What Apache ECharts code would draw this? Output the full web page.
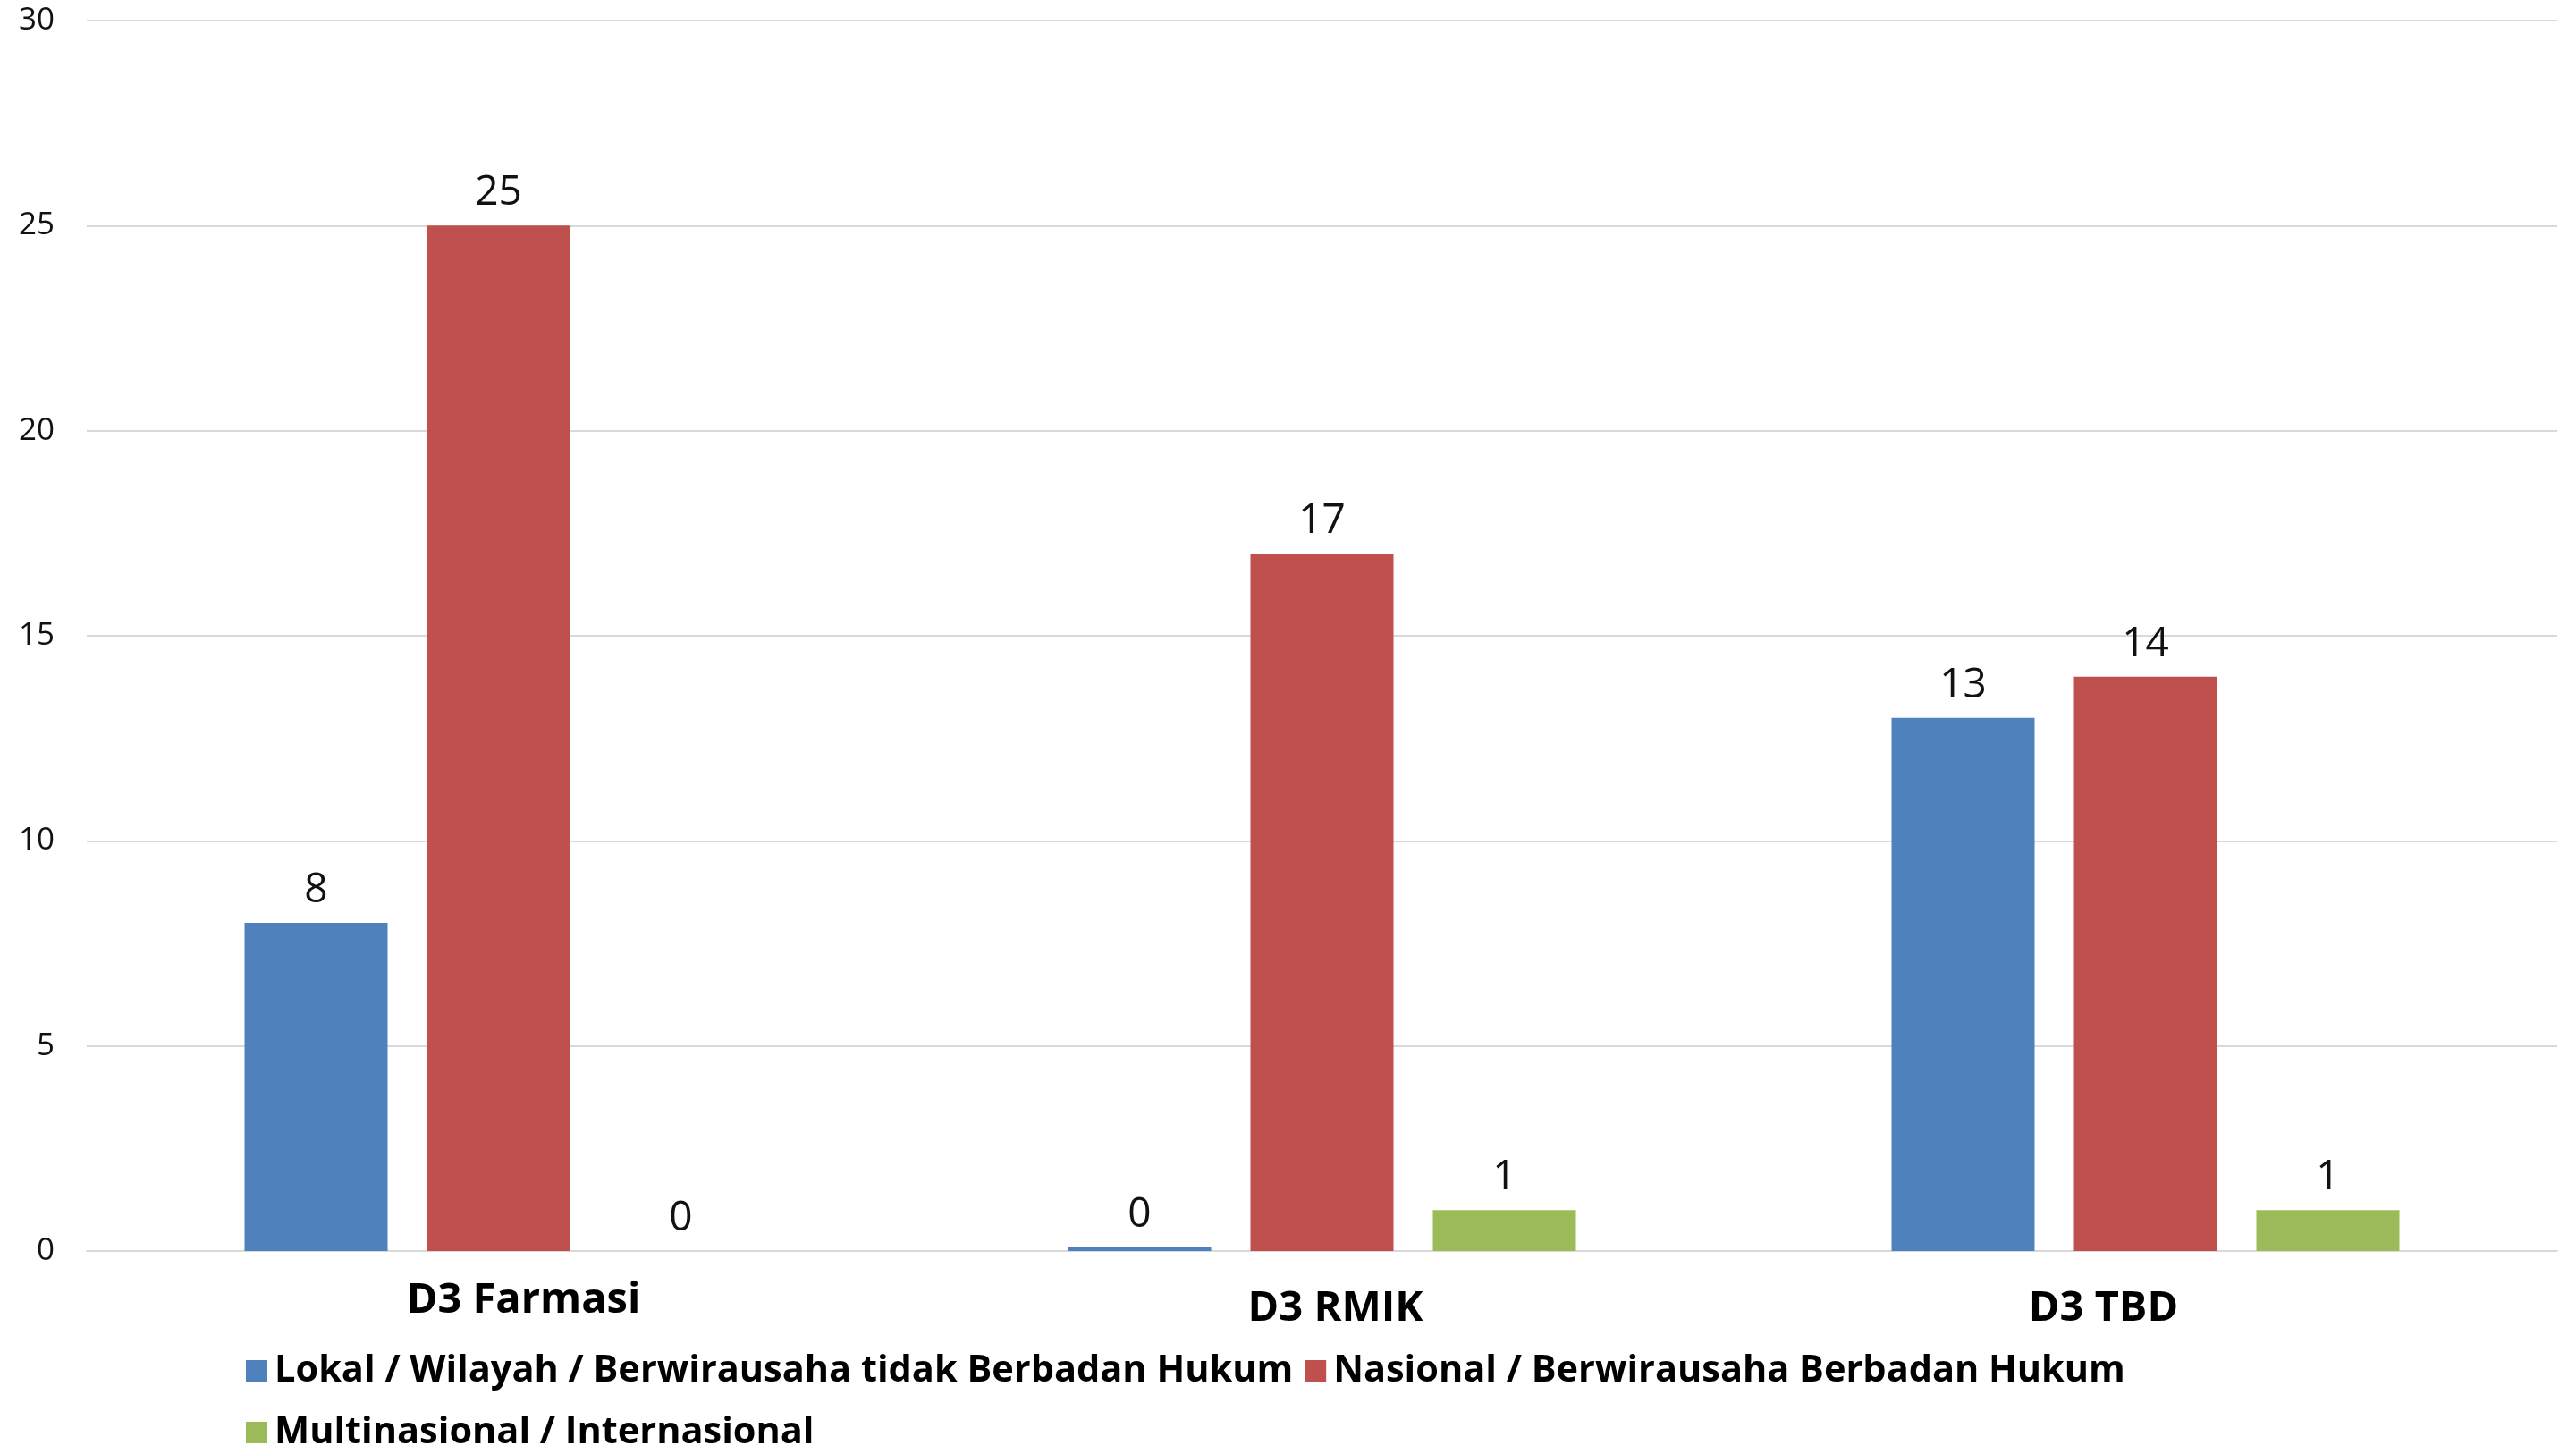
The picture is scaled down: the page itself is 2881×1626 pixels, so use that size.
<!DOCTYPE html>
<html>
<head>
<meta charset="utf-8">
<script src="https://cdn.jsdelivr.net/npm/echarts@6/dist/echarts.min.js"></script>
<style>
html,body{margin:0;padding:0;background:#fff;}
#chart{width:2881px;height:1626px;}
</style>
</head>
<body>
<div id="chart"></div>
<script>
const categories = ['D3 Farmasi', 'D3 RMIK', 'D3 TBD'];
const seriesNames = [
  'Lokal / Wilayah / Berwirausaha tidak Berbadan Hukum',
  'Nasional / Berwirausaha Berbadan Hukum',
  'Multinasional / Internasional'
];
const lokalValues = [8, 0.1, 13];
const nasionalValues = [25, 17, 14];
const multiValues = [0, 1, 1];
const yTicks = { min: 0, max: 30, interval: 5 };
const colors = ['#4F81BD', '#C0504D', '#9BBB59'];

const catPads = [[0, 0, 0, 56], [9, 0, 0, 30], [9, 94, 0, 0]];

const chart = echarts.init(document.getElementById('chart'), null, { renderer: 'canvas' });

function mkSeries(name, data, color) {
  return {
    name: name,
    type: 'bar',
    data: data,
    barWidth: 160,
    barGap: '27.5%',
    itemStyle: { color: color },
    label: {
      show: true,
      position: 'top',
      distance: 13,
      fontFamily: 'Open Sans',
      fontSize: 46,
      lineHeight: 46,
      color: '#111',
      formatter: p => String(Math.round(p.value))
    },
    emphasis: { disabled: true }
  };
}

chart.setOption({
  animation: false,
  backgroundColor: '#fff',
  grid: { left: 97, right: 21, top: 23, bottom: 227, containLabel: false },
  xAxis: {
    type: 'category',
    data: categories.map((c, i) => ({
      value: c,
      textStyle: { padding: catPads[i] }
    })),
    axisTick: { show: false },
    axisLine: { show: true, lineStyle: { color: '#d9d9d9', width: 2 } },
    axisLabel: {
      margin: 32,
      fontFamily: 'Open Sans',
      fontWeight: 'bold',
      fontSize: 47,
      lineHeight: 48,
      color: '#000'
    }
  },
  yAxis: {
    type: 'value',
    min: yTicks.min,
    max: yTicks.max,
    interval: yTicks.interval,
    axisLine: { show: false },
    axisTick: { show: false },
    splitLine: { lineStyle: { color: '#d9d9d9', width: 2 } },
    axisLabel: {
      margin: 36,
      fontFamily: 'Open Sans',
      fontSize: 35,
      color: '#111'
    }
  },
  legend: {
    left: 270,
    top: 1500,
    width: 2300,
    itemWidth: 24,
    itemHeight: 24,
    itemGap: 13,
    icon: 'rect',
    textStyle: {
      fontFamily: 'Open Sans',
      fontWeight: 'bold',
      fontSize: 41.5,
      lineHeight: 56,
      color: '#000',
      padding: [0, 0, 0, 3]
    },
    data: seriesNames
  },
  series: [
    mkSeries(seriesNames[0], lokalValues, colors[0]),
    mkSeries(seriesNames[1], nasionalValues, colors[1]),
    mkSeries(seriesNames[2], multiValues, colors[2])
  ]
});
</script>
</body>
</html>
